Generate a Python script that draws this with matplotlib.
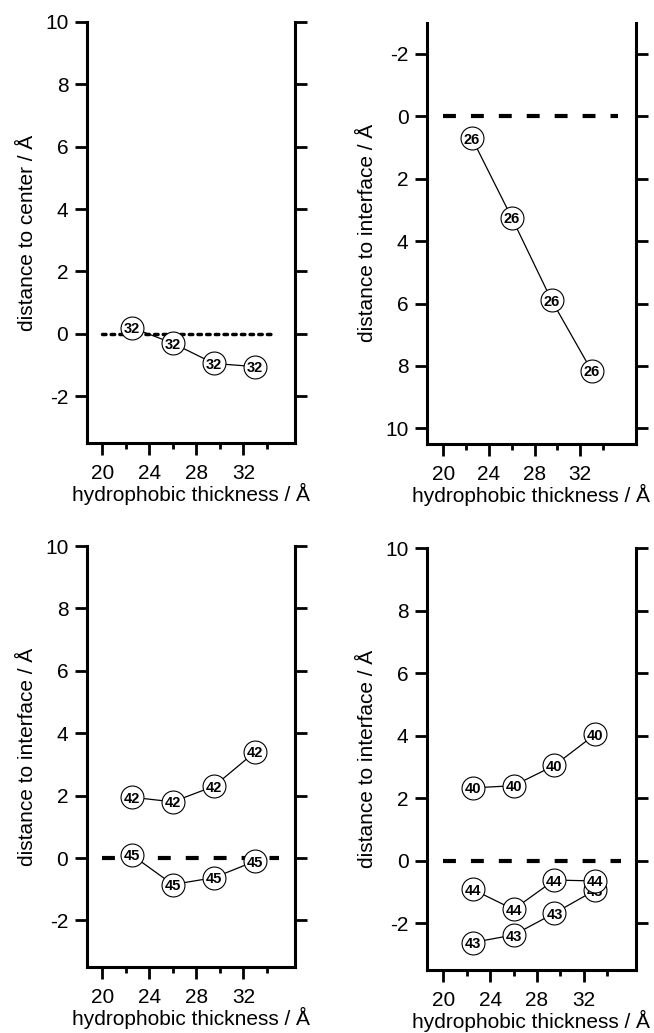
import matplotlib

matplotlib.use("Agg")
import matplotlib.pyplot as plt

plt.rcParams["font.family"] = ["Liberation Sans", "DejaVu Sans"]
plt.rcParams["axes.unicode_minus"] = False

# thickness of the hydrophobic slab (x positions of every series)
thickness = [22.5, 26.0, 29.5, 33.0]

# top-left: residue 32, distance to bilayer center
res32 = [0.2, -0.3, -0.95, -1.05]
# top-right: residue 26, distance to interface (inverted axis)
res26 = [0.7, 3.25, 5.9, 8.15]
# bottom-left
res42 = [1.95, 1.8, 2.3, 3.4]
res45 = [0.1, -0.85, -0.63, -0.1]
# bottom-right
res40 = [2.33, 2.4, 3.05, 4.05]
res44 = [-0.92, -1.56, -0.62, -0.65]
res43 = [-2.62, -2.38, -1.68, -0.94]

xticks_major = [20, 24, 28, 32]
xticks_minor = [22, 26, 30, 34]
yticks = [-2, 0, 2, 4, 6, 8, 10]

panels = [
    dict(rect=[0.1323, 0.5711, 0.3183, 0.4078], xlim=(18.66, 36.37), ylim=(-3.5, 10),
         ylabel="distance to center / Å", ref=(20, 34.5), ref_style="dot",
         series=[("32", res32)]),
    dict(rect=[0.6525, 0.5702, 0.3200, 0.4078], xlim=(18.54, 36.9), ylim=(10.5, -3),
         ylabel="distance to interface / Å", ref=(20, 35.3), ref_style="dash",
         series=[("26", res26)]),
    dict(rect=[0.1323, 0.0637, 0.3183, 0.4077], xlim=(18.66, 36.37), ylim=(-3.5, 10),
         ylabel="distance to interface / Å", ref=(20, 35.0), ref_style="dash",
         series=[("42", res42), ("45", res45)]),
    dict(rect=[0.6525, 0.0610, 0.3203, 0.4082], xlim=(18.58, 36.49), ylim=(-3.5, 10),
         ylabel="distance to interface / Å", ref=(20, 35.2), ref_style="dash",
         series=[("43", res43), ("44", res44), ("40", res40)]),
]

fig = plt.figure(figsize=(6.54, 10.33), dpi=100)

for p in panels:
    ax = fig.add_axes(p["rect"])
    ax.set_xlim(*p["xlim"])
    ax.set_ylim(*p["ylim"])

    x0, x1 = p["ref"]
    if p["ref_style"] == "dot":
        ax.plot([x0, x1], [0, 0], color="black", lw=2.5, dashes=(1, 1.5),
                dash_capstyle="round", zorder=1)
    else:
        ax.plot([x0, x1], [0, 0], color="black", lw=3.0, dashes=(3.1, 3.6),
                dash_capstyle="butt", zorder=1)

    for k, (label, vals) in enumerate(p["series"]):
        z = 3 + 2 * k
        ax.plot(thickness, vals, color="black", lw=0.9, marker="o", ms=16.5,
                mfc="white", mec="black", mew=0.8, zorder=z)
        for xv, yv in zip(thickness, vals):
            ax.text(xv, yv, label, ha="center", va="center_baseline", fontsize=10.5,
                    fontweight="bold", zorder=z + 1)

    ax.spines["top"].set_visible(False)
    for s in ("left", "right", "bottom"):
        ax.spines[s].set_linewidth(2.2)

    ax.set_xticks(xticks_major)
    ax.set_xticks(xticks_minor, minor=True)
    ax.set_yticks(yticks)
    ax.tick_params(axis="y", which="major", direction="out", length=8.6, width=2.0,
                   left=True, right=True, labelsize=15, pad=4.5)
    ax.tick_params(axis="x", which="major", direction="out", length=8.6, width=2.0,
                   labelsize=15, pad=6.5)
    ax.tick_params(axis="x", which="minor", direction="out", length=4.3, width=2.0)

    ax.set_xlabel("hydrophobic thickness / Å", fontsize=15, labelpad=0)
    ax.set_ylabel(p["ylabel"], fontsize=15, labelpad=6)

fig.savefig("out.png", dpi=100)
